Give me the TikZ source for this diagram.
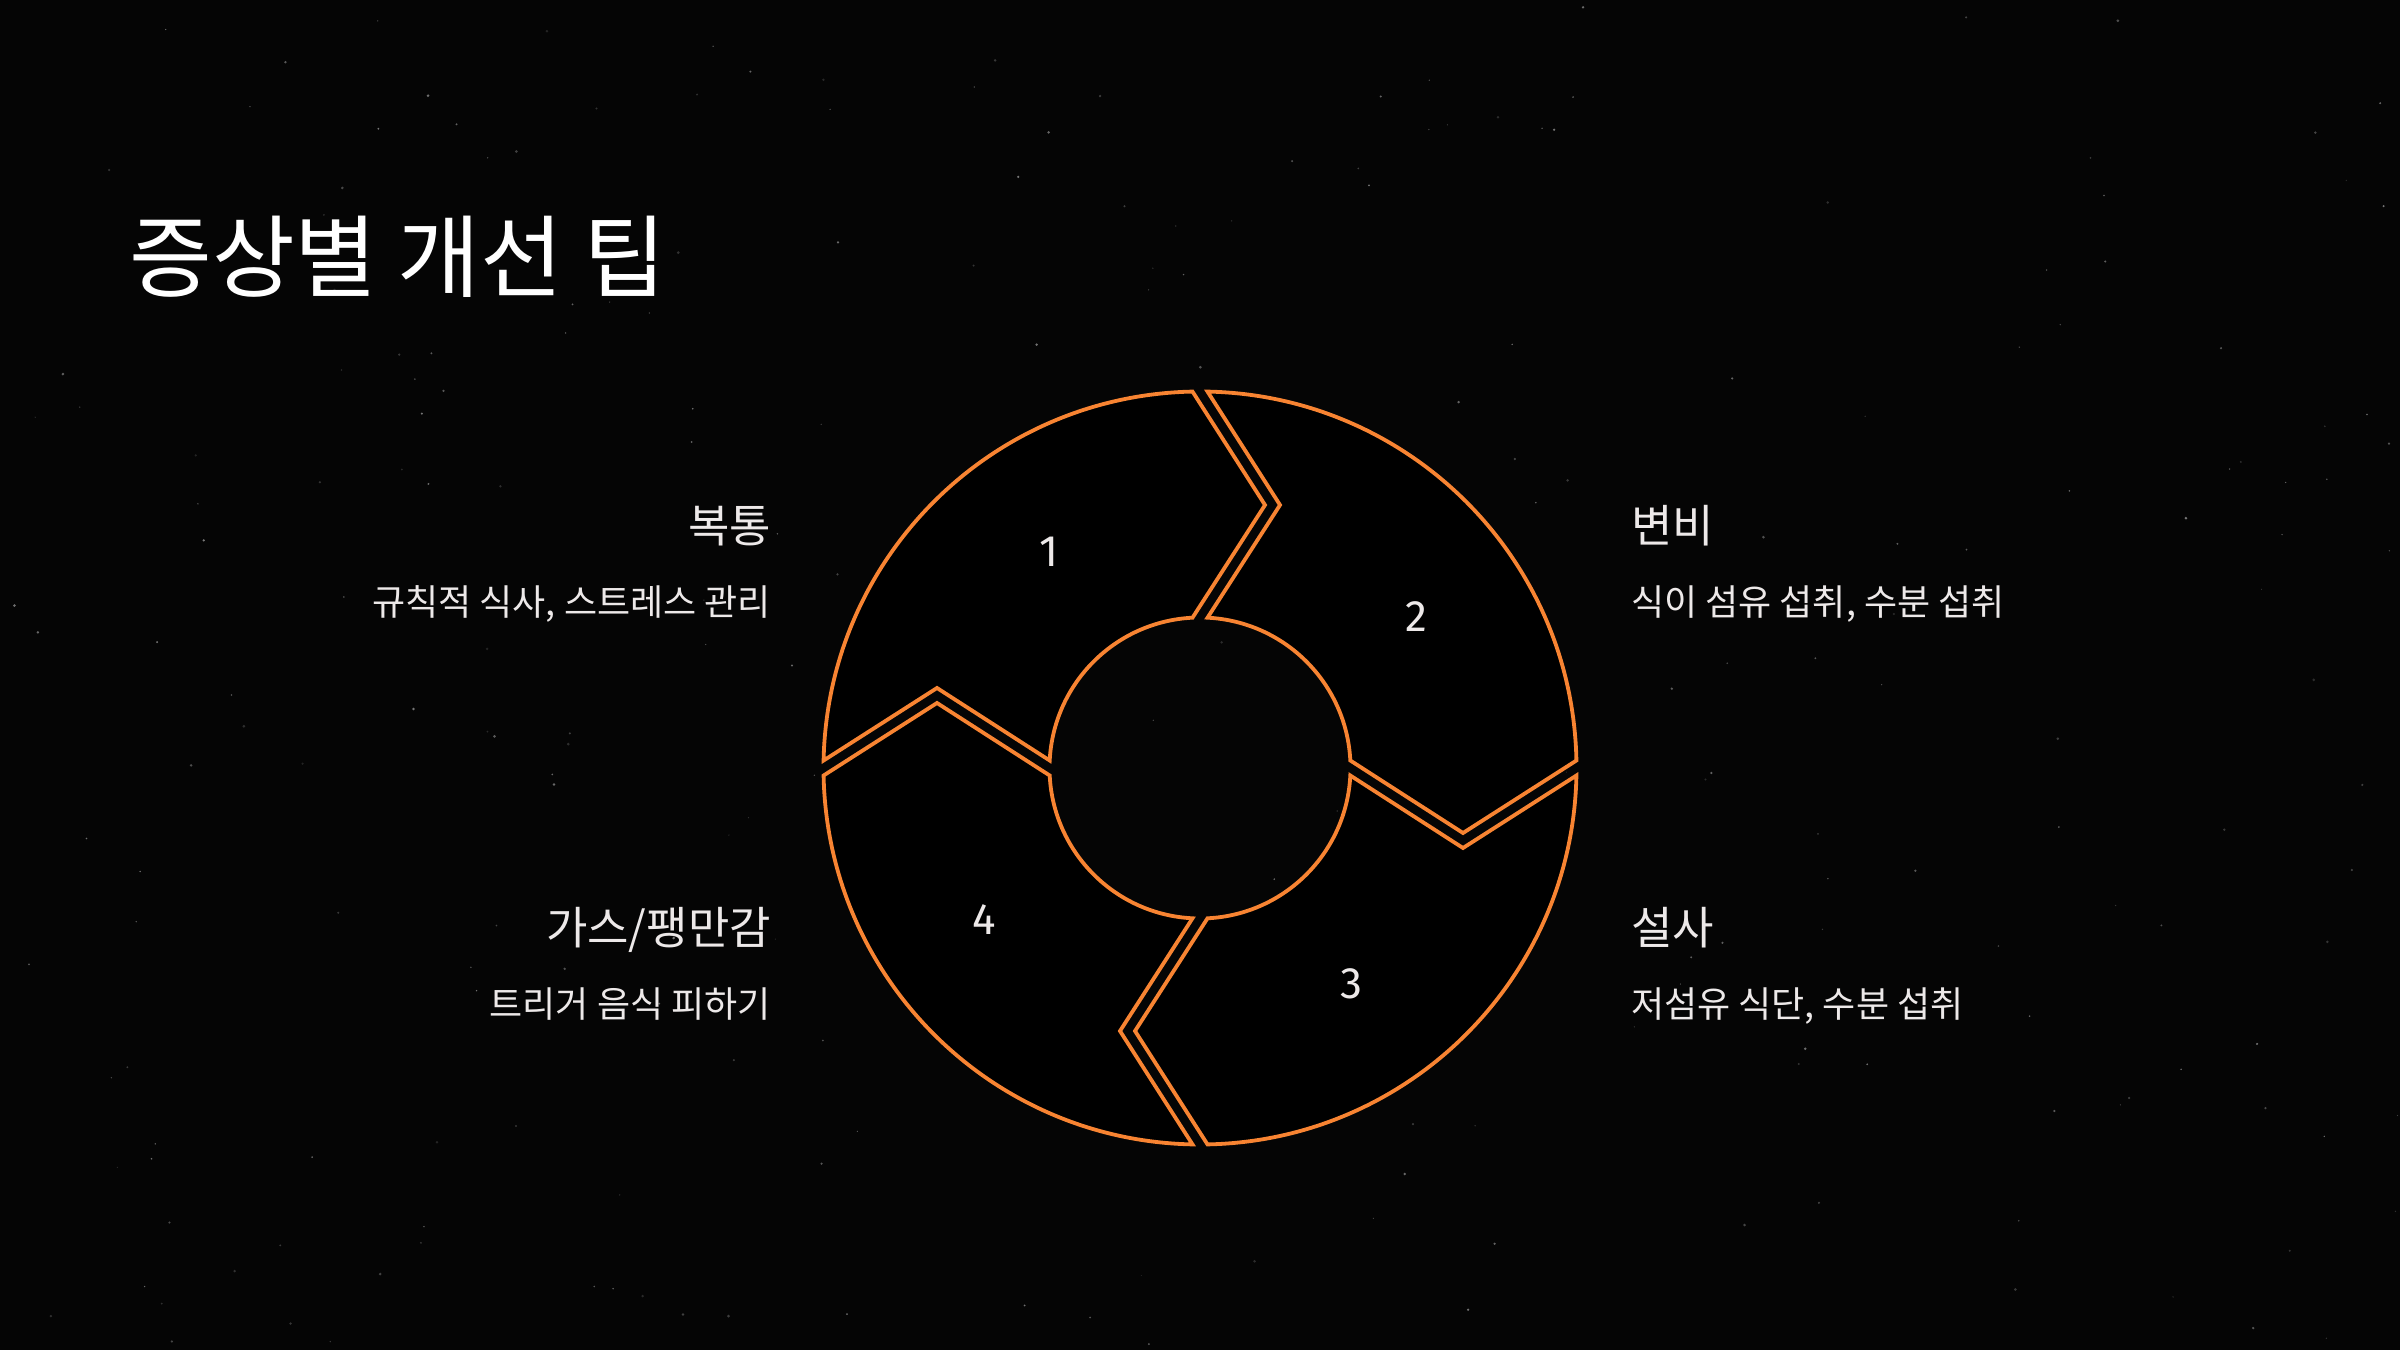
\documentclass[tikz,border=0pt]{standalone}
\usepackage{fontspec}
\newfontfamily\krfont{Noto Sans CJK KR}
\newfontfamily\digitfont{Fira Sans}
\definecolor{ring}{HTML}{F88432}
\definecolor{bgcol}{HTML}{050505}
\definecolor{txt}{HTML}{EDE9E9}
\begin{document}
\begin{tikzpicture}[x=1pt,y=1pt,
  seg/.style={draw=ring, line width=3.8pt, fill=black, line join=miter},
  num/.style={text=txt, inner sep=0pt, font=\digitfont\fontsize{44}{50}\selectfont},
  title/.style={text=white, inner sep=0pt, anchor=base west, font=\krfont\fontsize{90}{108}\selectfont},
  headL/.style={text=txt, inner sep=0pt, anchor=base east, font=\krfont\fontsize{45}{54}\selectfont},
  headR/.style={text=txt, inner sep=0pt, anchor=base west, font=\krfont\fontsize{45}{54}\selectfont},
  subL/.style={text=txt, inner sep=0pt, anchor=base east, font=\krfont\fontsize{36}{43}\selectfont},
  subR/.style={text=txt, inner sep=0pt, anchor=base west, font=\krfont\fontsize{36}{43}\selectfont},
  star/.style={fill=white}]
\useasboundingbox (0,0) rectangle (2400,1350);
\fill[bgcol] (0,0) rectangle (2400,1350);
% faint star field
\pgfmathsetseed{4242}
\foreach \i in {1,...,260}{
  \pgfmathsetmacro{\sx}{rnd*2400}
  \pgfmathsetmacro{\sy}{rnd*1350}
  \pgfmathsetmacro{\sr}{0.6+rnd*0.9}
  \pgfmathsetmacro{\so}{0.12+rnd*0.35}
  \fill[star, opacity=\so] (\sx,\sy) circle[radius=\sr pt];
}
% ring of four chevron segments
\begin{scope}[shift={(1200,582)}]
\foreach \r/\n in {0/1,-90/2,-180/3,-270/4}{
  \begin{scope}[rotate=\r]
    \draw[seg] (178.858:376.5pt) arc[start angle=178.858, end angle=91.142, radius=376.5pt]
      -- (65pt,263pt) -- (92.856:150.5pt)
      arc[start angle=92.856, end angle=177.144, radius=150.5pt]
      -- (-263pt,80pt) -- cycle;
    \node[num] (n\n) at (125:264pt) {\n};
  \end{scope}
}
\end{scope}
% title
\node[title] (ttl) at (129,1059) {증상별 개선 팁};
% labels
\node[headL] (h1) at (771,807) {복통};
\node[subL]  (s1) at (771,734.5) {규칙적 식사, 스트레스 관리};
\node[headR] (h2) at (1631,807) {변비};
\node[subR]  (s2) at (1631,734.5) {식이 섬유 섭취, 수분 섭취};
\node[headR] (h3) at (1631,405) {설사};
\node[subR]  (s3) at (1631,332.5) {저섬유 식단, 수분 섭취};
\node[headL] (h4) at (771,405) {가스/팽만감};
\node[subL]  (s4) at (771,332.5) {트리거 음식 피하기};
\end{tikzpicture}
\end{document}
